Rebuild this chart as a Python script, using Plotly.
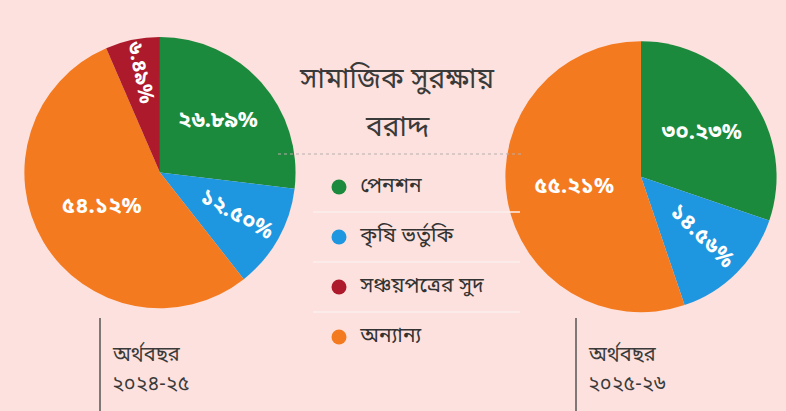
import plotly.graph_objects as go

# data
categories = ["পেনশন", "কৃষি ভর্তুকি", "সঞ্চয়পত্রের সুদ", "অন্যান্য"]
colors = ["#1c8a3c", "#1e97e0", "#ad1a2b", "#f47a1f"]
share_2024 = [26.89, 12.50, 6.49, 54.12]
share_2025 = [30.23, 14.56, 0, 55.21]
year_word = "অর্থবছর"
years = ["২০২৪-২৫", "২০২৫-২৬"]
title_lines = ["সামাজিক সুরক্ষায়", "বরাদ্দ"]

# slice order going clockwise from 12 o'clock
slice_order = [0, 1, 3, 2]
# which slices get their label turned along the radius
radial = [False, True, True, False]

bn_digits = str.maketrans("0123456789", "০১২৩৪৫৬৭৮৯")


def bn_pct(v):
    return ("%.2f%%" % v).translate(bn_digits)


font = "Noto Sans Bengali, Noto Sans, sans-serif"
bg = "#fce1de"

fig = go.Figure()


def add_pie(values, dom_x, dom_y):
    idx = [i for i in slice_order if values[i] > 0]
    common = dict(
        labels=[categories[i] for i in idx],
        values=[values[i] for i in idx],
        textinfo="text", textposition="inside",
        textfont=dict(family=font, size=22, color="white", weight="bold"),
        sort=False, direction="clockwise", rotation=0,
        domain=dict(x=dom_x, y=dom_y), showlegend=False,
    )
    # slices + straight labels
    fig.add_trace(go.Pie(
        text=["" if radial[i] else bn_pct(values[i]) for i in idx],
        marker=dict(colors=[colors[i] for i in idx], line=dict(width=0)),
        insidetextorientation="horizontal",
        hovertext=[bn_pct(values[i]) for i in idx],
        hoverinfo="label+text",
        **common))
    # transparent copy carrying the radial labels
    fig.add_trace(go.Pie(
        text=[bn_pct(values[i]) if radial[i] else "" for i in idx],
        marker=dict(colors=["rgba(0,0,0,0)"] * len(idx), line=dict(width=0)),
        insidetextorientation="radial",
        hoverinfo="skip",
        **common))


add_pie(share_2024, [0.031, 0.376], [0.25, 0.91])
add_pie(share_2025, [0.643, 0.988], [0.24, 0.90])

# legend drawn by hand in the middle
leg_y = [187 + 50 * i for i in range(len(categories))]
fig.add_trace(go.Scatter(
    x=[339] * len(categories), y=leg_y,
    mode="markers+text",
    marker=dict(size=15, color=colors),
    text=["  " + c for c in categories],
    textposition="middle right",
    textfont=dict(family=font, size=21, color="#333333"),
    hoverinfo="skip", showlegend=False,
))

fig.update_xaxes(range=[0, 786], visible=False, domain=[0, 1], fixedrange=True)
fig.update_yaxes(range=[411, 0], visible=False, domain=[0, 1], fixedrange=True)

shapes = [dict(type="line", xref="x", yref="y", x0=278, x1=522, y0=154, y1=154,
               line=dict(color="#b9aeac", width=1, dash="dot"))]
for y in [212, 262, 312]:
    shapes.append(dict(type="line", xref="x", yref="y", x0=313, x1=520, y0=y, y1=y,
                       line=dict(color="#fbeeec", width=1.5)))
for x in [100, 576]:
    shapes.append(dict(type="line", xref="x", yref="y", x0=x, x1=x, y0=318, y1=411,
                       line=dict(color="#555555", width=1.5)))

ann = []
for i, t in enumerate(title_lines):
    ann.append(dict(x=397, y=80 + 48 * i, xref="x", yref="y", text=t, showarrow=False,
                    font=dict(family=font, size=28, color="#3a3a3a")))
for x, t in zip([110, 586], years):
    for j, line in enumerate([year_word, t]):
        ann.append(dict(x=x, y=355 + 30 * j, xref="x", yref="y", text=line,
                        showarrow=False, xanchor="left",
                        font=dict(family=font, size=20, color="#3a3a3a")))

fig.update_layout(
    width=786, height=411,
    margin=dict(l=0, r=0, t=0, b=0),
    paper_bgcolor=bg, plot_bgcolor=bg,
    shapes=shapes, annotations=ann,
)

fig.write_html("out.html", config={"displayModeBar": False},
               post_script="document.body.style.margin='0px';")
